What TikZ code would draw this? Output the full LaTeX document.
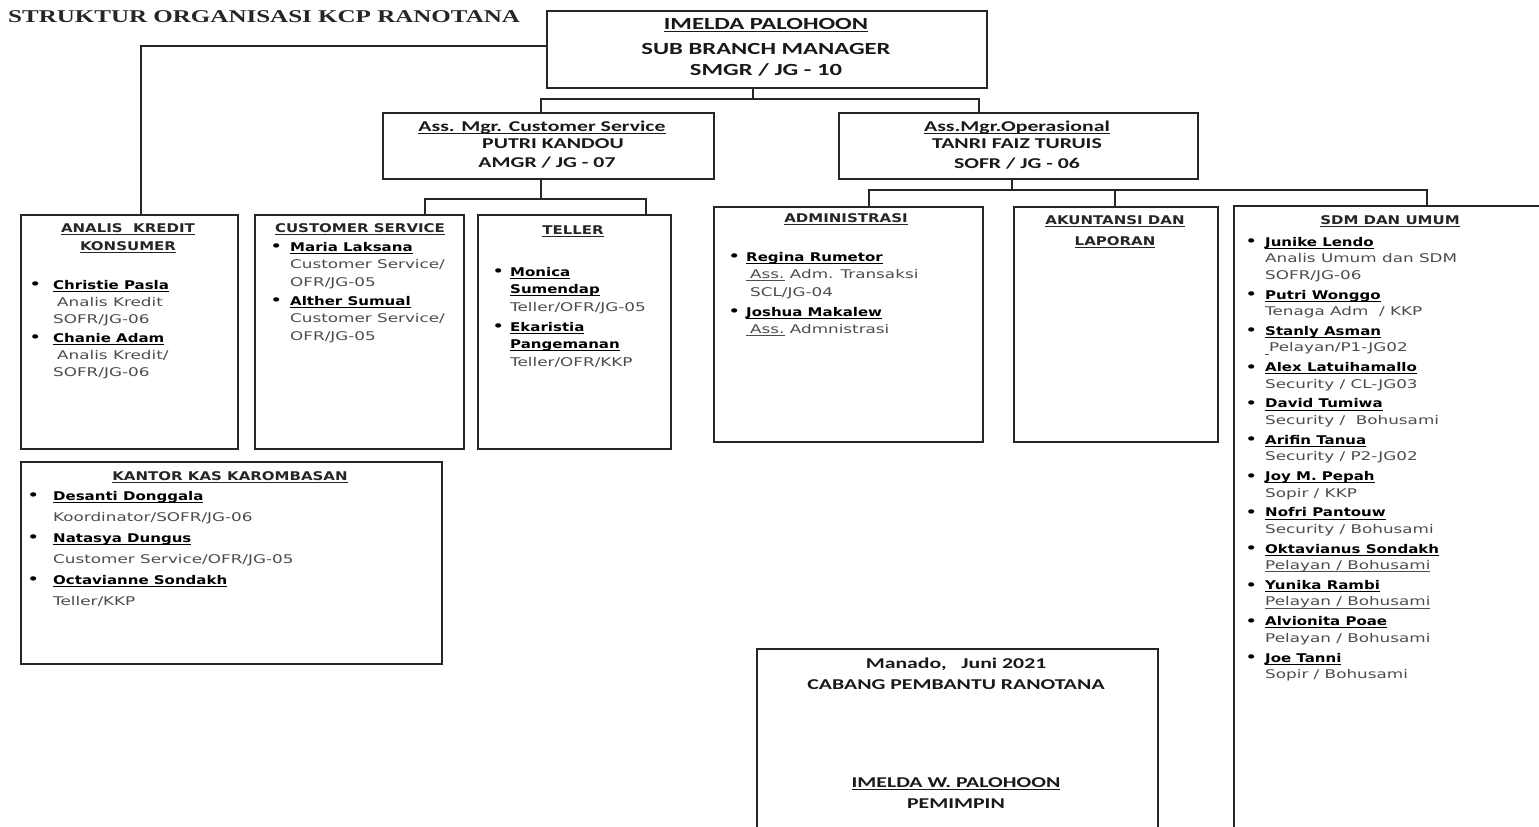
\documentclass[tikz,border=0pt]{standalone}
\usepackage{fontspec}
\setmainfont{DejaVu Sans}
\newfontfamily\titlefont[FakeStretch=1.39]{Liberation Serif}
\newfontfamily\capfont[FakeStretch=1.45]{Carlito}
\newfontfamily\bodyfont[FakeStretch=1.4,BoldFeatures={FakeStretch=1.25}]{DejaVu Sans}
\usetikzlibrary{calc}
\newlength\bi
\newcommand\ul[1]{\leavevmode\setbox0=\hbox{#1}\rlap{\rule[-2.6pt]{\wd0}{0.9pt}}\box0}
\newcommand\bul{\raisebox{-0.6pt}{\fontsize{15}{15}\selectfont\textbullet}}
\newcommand\itm[1]{\strut\makebox[\bi][l]{\textcolor{black}{\bul}}\textcolor{black}{\ul{\textbf{#1}}}}
\newcommand\sub[1]{\strut\hspace*{\bi}#1}
\tikzset{
  orgbox/.style={draw=black!85, line width=1.6pt, inner sep=0pt, anchor=north west},
  conn/.style={draw=black!85, line width=1.5pt},
  captxt/.style={font=\capfont\bfseries\fontsize{17}{20}\selectfont, anchor=base, inner sep=0pt, text=black!90},
  captxtm/.style={font=\capfont\bfseries\fontsize{15}{18}\selectfont, anchor=base, inner sep=0pt, text=black!90},
  headtxt/.style={font=\bodyfont\bfseries\fontsize{12}{18}\selectfont, anchor=base, inner sep=0pt, text=black!85},
  lsttxt/.style={anchor=north west, inner sep=0pt, align=left, text=black!70},
}
\begin{document}
\begin{tikzpicture}[x=1pt,y=-1pt]
\useasboundingbox (0,0) rectangle (1539,827);
\clip (0,0) rectangle (1539,827);
\fill[white] (0,0) rectangle (1539,827);

% title
\node[anchor=base west, inner sep=0pt, font=\titlefont\bfseries\fontsize{18}{20}\selectfont, text=black!85] (title) at (8,23) {STRUKTUR ORGANISASI KCP RANOTANA};

% boxes
\node[orgbox, minimum width=440pt, minimum height=77pt] (top) at (546,10) {};
\node[orgbox, minimum width=331pt, minimum height=66pt] (amcs) at (382,112) {};
\node[orgbox, minimum width=359pt, minimum height=66pt] (amo) at (838,112) {};
\node[orgbox, minimum width=217pt, minimum height=234pt] (ak) at (20,214) {};
\node[orgbox, minimum width=209pt, minimum height=234pt] (cs) at (254,214) {};
\node[orgbox, minimum width=193pt, minimum height=234pt] (tel) at (477,214) {};
\node[orgbox, minimum width=269pt, minimum height=235pt] (adm) at (713,206) {};
\node[orgbox, minimum width=204pt, minimum height=235pt] (akt) at (1013,206) {};
\node[orgbox, minimum width=400pt, minimum height=700pt] (sdm) at (1233,205) {};
\node[orgbox, minimum width=421pt, minimum height=202pt] (kk) at (20,461) {};
\node[orgbox, minimum width=401pt, minimum height=300pt] (sig) at (756,648) {};

% connectors
\coordinate (lineY) at (0,46);
\coordinate (dAk) at (141,0);
\draw[conn] (top.west |- lineY) -| (ak.north -| dAk);

\coordinate (jTop) at (753,99);
\coordinate (dA) at (541,0);
\coordinate (dB) at (979,0);
\draw[conn] (top.south -| jTop) -- (jTop);
\draw[conn] (amcs.north -| dA) |- (jTop) -| (amo.north -| dB);

\coordinate (jCS) at (541,199);
\coordinate (dCS) at (425,0);
\coordinate (dTel) at (646,0);
\draw[conn] (amcs.south -| jCS) -- (jCS);
\draw[conn] (cs.north -| dCS) |- (jCS) -| (tel.north -| dTel);

\coordinate (jOp) at (1012,190);
\coordinate (dAdm) at (869,0);
\coordinate (dAkt) at (1115,0);
\coordinate (dSdm) at (1427,0);
\draw[conn] (amo.south -| jOp) -- (jOp);
\draw[conn] (adm.north -| dAdm) |- (jOp) -| (sdm.north -| dSdm);
\draw[conn] (akt.north -| dAkt) -- (dAkt |- jOp);

% top box text
\node[captxt] (t1) at (766,29) {\ul{IMELDA PALOHOON}};
\node[captxt] (t2) at (766,54) {SUB BRANCH MANAGER};
\node[captxt] (t3) at (766,75) {SMGR / JG - 10};

% second row text
\node[captxtm] (a1) at (542,131) {\ul{Ass. Mgr. Customer Service}};
\node[captxtm] (a2) at (553,148) {PUTRI KANDOU};
\node[captxtm] (a3) at (547,167) {AMGR / JG - 07};
\node[captxtm] (o1) at (1017,131) {\ul{Ass.Mgr.Operasional}};
\node[captxtm] (o2) at (1017,148) {TANRI FAIZ TURUIS};
\node[captxtm] (o3) at (1017,168) {SOFR / JG - 06};

% headings
\node[headtxt] (akH1) at (128,232) {\ul{ANALIS\ \ KREDIT}};
\node[headtxt] (akH2) at (128,250) {\ul{KONSUMER}};
\node[headtxt] (csH) at (360,232) {\ul{CUSTOMER SERVICE}};
\node[headtxt] (telH) at (573,234) {\ul{TELLER}};
\node[headtxt] (admH) at (846,222) {\ul{ADMINISTRASI}};
\node[headtxt] (aktH1) at (1115,224) {\ul{AKUNTANSI DAN}};
\node[headtxt] (aktH2) at (1115,245) {\ul{LAPORAN}};
\node[headtxt] (sdmH) at (1390,224) {\ul{SDM DAN UMUM}};
\node[headtxt] (kkH) at (230,480) {\ul{KANTOR KAS KAROMBASAN}};

% lists
\node[lsttxt, font={\bodyfont\fontsize{12}{17}\selectfont\setlength\bi{24pt}}] (akL) at (29,277.1)
 {\itm{Christie Pasla}\\ \sub{\hspace*{4pt}Analis Kredit}\\ \sub{SOFR/JG-06}\\[2pt]
  \itm{Chanie Adam}\\ \sub{\hspace*{4pt}Analis Kredit/}\\ \sub{SOFR/JG-06}};

\node[lsttxt, font={\bodyfont\fontsize{12}{17.5}\selectfont\setlength\bi{20pt}}] (csL) at (270,238.75)
 {\itm{Maria Laksana}\\ \sub{Customer Service/}\\ \sub{OFR/JG-05}\\[1.5pt]
  \itm{Alther Sumual}\\ \sub{Customer Service/}\\ \sub{OFR/JG-05}};

\node[lsttxt, font={\bodyfont\fontsize{12}{17.5}\selectfont\setlength\bi{18pt}}] (telL) at (492,263.75)
 {\itm{Monica}\\ \sub{\textcolor{black}{\ul{\textbf{Sumendap}}}}\\ \sub{Teller/OFR/JG-05}\\[2.5pt]
  \itm{Ekaristia}\\ \sub{\textcolor{black}{\ul{\textbf{Pangemanan}}}}\\ \sub{Teller/OFR/KKP}};

\node[lsttxt, font={\bodyfont\fontsize{12}{17.5}\selectfont\setlength\bi{18pt}}] (admL) at (728,248.75)
 {\itm{Regina Rumetor}\\ \sub{\ul{\hspace*{4pt}Ass.}\ Adm. Transaksi}\\ \sub{\hspace*{4pt}SCL/JG-04}\\[2.5pt]
  \itm{Joshua Makalew}\\ \sub{\ul{\hspace*{4pt}Ass.}\ Admnistrasi}};

\node[lsttxt, font={\bodyfont\fontsize{12}{16.5}\selectfont\setlength\bi{20pt}}] (sdmL) at (1245,234.45)
 {\itm{Junike Lendo}\\ \sub{Analis Umum dan SDM}\\ \sub{SOFR/JG-06}\\[3.3pt]
  \itm{Putri Wonggo}\\ \sub{Tenaga Adm\ \ / KKP}\\[3.3pt]
  \itm{Stanly Asman}\\ \sub{\ul{\hspace*{4pt}}Pelayan/P1-JG02}\\[3.3pt]
  \itm{Alex Latuihamallo}\\ \sub{Security / CL-JG03}\\[3.3pt]
  \itm{David Tumiwa}\\ \sub{Security /\ \ Bohusami}\\[3.3pt]
  \itm{Arifin Tanua}\\ \sub{Security / P2-JG02}\\[3.3pt]
  \itm{Joy M. Pepah}\\ \sub{Sopir / KKP}\\[3.3pt]
  \itm{Nofri Pantouw}\\ \sub{Security / Bohusami}\\[3.3pt]
  \itm{Oktavianus Sondakh}\\ \sub{\ul{Pelayan / Bohusami}}\\[3.3pt]
  \itm{Yunika Rambi}\\ \sub{\ul{Pelayan / Bohusami}}\\[3.3pt]
  \itm{Alvionita Poae}\\ \sub{Pelayan / Bohusami}\\[3.3pt]
  \itm{Joe Tanni}\\ \sub{Sopir / Bohusami}};

\node[lsttxt, font={\bodyfont\fontsize{12}{21}\selectfont\setlength\bi{26pt}}] (kkL) at (27,485.3)
 {\itm{Desanti Donggala}\\ \sub{Koordinator/SOFR/JG-06}\\
  \itm{Natasya Dungus}\\ \sub{Customer Service/OFR/JG-05}\\
  \itm{Octavianne Sondakh}\\ \sub{Teller/KKP}};

% signature
\node[captxtm] (s1) at (956,668) {Manado,\ \ \ Juni 2021};
\node[captxtm] (s2) at (956,689) {CABANG PEMBANTU RANOTANA};
\node[captxtm] (s3) at (956,787) {\ul{IMELDA W. PALOHOON}};
\node[captxtm] (s4) at (956,808) {PEMIMPIN};
\end{tikzpicture}
\end{document}
